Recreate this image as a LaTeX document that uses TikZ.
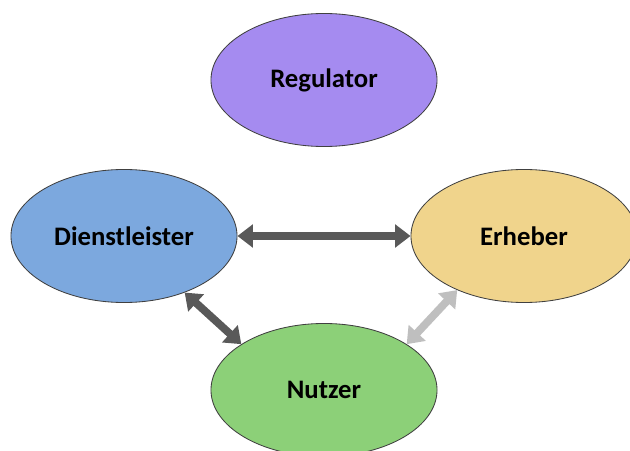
\documentclass[tikz,border=0pt]{standalone}
\usepackage{fontspec}
\setmainfont{Carlito}
\usepackage{tikz}
\usetikzlibrary{shapes.geometric}
\usetikzlibrary{arrows.meta}

\definecolor{regcol}{RGB}{165,139,240}
\definecolor{dlcol}{RGB}{124,168,222}
\definecolor{ehcol}{RGB}{240,212,140}
\definecolor{nzcol}{RGB}{140,208,120}
\definecolor{darkarrow}{RGB}{89,89,89}
\definecolor{lightarrow}{RGB}{191,191,191}

\begin{document}
\begin{tikzpicture}[x = 0.025cm, y = -0.025cm,
        role/.style = {ellipse, draw = black!75, line width = 0.6pt, inner sep = 0pt,
            minimum width = 5.65cm, minimum height = 3.325cm,
            font = \fontsize{19}{22}\selectfont\bfseries},
        link/.style = {line width = 5.5pt, darkarrow,
            {Triangle[length = 11pt, width = 16pt]}-{Triangle[length = 11pt, width = 16pt]}},
        weaklink/.style = {link, lightarrow}]
        \clip (0, 0) rectangle (630, 451);
        \fill [white] (0, 0) rectangle (630, 451);
        \node [role, fill = regcol] (reg) at (324, 80) {Regulator};
        \node [role, fill = dlcol] (dl) at (124, 236) {Dienstleister};
        \node [role, fill = ehcol] (eh) at (524, 236) {Erheber};
        \node [role, fill = nzcol] (nz) at (324, 390) {Nutzer};
        \draw [link] (dl.east) -- (eh.west);
        \draw [link] (dl.-43) -- (nz.151);
        \draw [weaklink] (nz.29) -- (eh.219);
    \end{tikzpicture}
\end{document}
